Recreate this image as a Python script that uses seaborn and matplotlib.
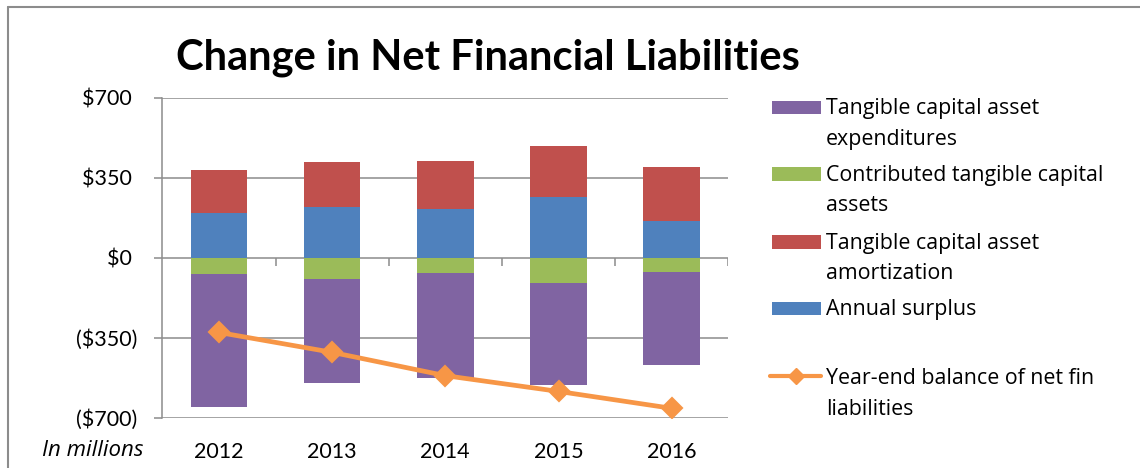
import numpy as np
import matplotlib
matplotlib.use("Agg")
import matplotlib.pyplot as plt
from matplotlib.patches import Rectangle
from matplotlib.lines import Line2D
import seaborn as sns

# ---- data (millions) ----
years = ["2012", "2013", "2014", "2015", "2016"]
surplus = [195, 222, 212, 267, 160]            # Annual surplus
amortization = [188, 197, 210, 222, 236]       # Tangible capital asset amortization
contributed = [-73, -95, -66, -112, -61]       # Contributed tangible capital assets
expenditures = [-580, -451, -459, -445, -407]  # Tangible capital asset expenditures
balance = [-327, -414, -516, -585, -659]       # Year-end balance of net fin liabilities
ytick_vals = [-700, -350, 0, 350, 700]
ytick_labels = ["($700)", "($350)", "$0 ", "$350 ", "$700 "]
legend_labels = [
    ["Tangible capital asset", "expenditures"],
    ["Contributed tangible capital", "assets"],
    ["Tangible capital asset", "amortization"],
    ["Annual surplus"],
    ["Year-end balance of net fin", "liabilities"],
]

C_PURPLE = "#8064A2"
C_GREEN = "#9BBB59"
C_RED = "#C0504D"
C_BLUE = "#4F81BD"
C_ORANGE = "#F79646"
C_GRID = "#8C8C8C"

sns.set_theme(style="white")
plt.rcParams["font.family"] = ["Lato", "DejaVu Sans"]
TEXT_FONT = ["Open Sans", "DejaVu Sans"]

W, H = 1140, 468
fig = plt.figure(figsize=(W / 100, H / 100), dpi=100)
ax = fig.add_axes([162.3 / W, 1 - 417.7 / H, (728.3 - 162.3) / W, (417.7 - 97.7) / H])

bar_kw = dict(width=0.5, saturation=1, errorbar=None, linewidth=0, ax=ax)
sns.barplot(x=years, y=surplus, color=C_BLUE, **bar_kw)
sns.barplot(x=years, y=amortization, bottom=surplus, color=C_RED, **bar_kw)
sns.barplot(x=years, y=contributed, color=C_GREEN, **bar_kw)
sns.barplot(x=years, y=expenditures, bottom=contributed, color=C_PURPLE, **bar_kw)
sns.pointplot(x=years, y=balance, color=C_ORANGE, markers="D", markersize=9.5,
              linewidth=3.4, errorbar=None, ax=ax)

ax.set_xlim(-0.5, 4.5)
ax.set_ylim(-700, 700)
ax.set_yticks(ytick_vals)
ax.set_yticklabels(ytick_labels, fontsize=15.5, color="black")
ax.set_axisbelow(True)
ax.yaxis.grid(True, color=C_GRID, linewidth=1.1)
ax.xaxis.grid(False)
for s in ["top", "right", "bottom"]:
    ax.spines[s].set_visible(False)
ax.spines["left"].set_color(C_GRID)
ax.spines["left"].set_linewidth(1.1)
ax.tick_params(axis="y", which="major", direction="out", length=5.8, width=1.1,
               color=C_GRID, pad=12.5, left=True)
ax.tick_params(axis="x", length=0, pad=17.5, labelsize=15.5, labelcolor="black")
ax.set_xlabel("")
ax.set_ylabel("")

# category tick marks hanging below the zero line
ax.vlines(np.arange(0.5, 5.0, 1.0), -35, 0, color=C_GRID, linewidth=1.1, zorder=1)

# title
fig.text(176 / W, 1 - 69.3 / H, "Change in Net Financial Liabilities",
         fontsize=30, fontweight="bold", ha="left", va="baseline", color="black")

# "In millions"
fig.text(144 / W, 1 - 456 / H, "In millions", fontsize=16, style="italic",
         family=TEXT_FONT, ha="right", va="baseline", color="black")

# chart border (cropped)
bx, by = 7.5 / W, 1 - 7 / H
fig.add_artist(Line2D([bx, bx], [-0.01, by], color=C_GRID, linewidth=1.5))
fig.add_artist(Line2D([bx, 1.01], [by, by], color=C_GRID, linewidth=1.5))

# manual legend
patch_colors = [C_PURPLE, C_GREEN, C_RED, C_BLUE]
baselines = [114.3, 180.7, 248.7, 315.3, 384.0]
for i, lab in enumerate(legend_labels):
    b = baselines[i]
    if i < 4:
        fig.add_artist(Rectangle((772 / W, 1 - b / H), (821 - 772) / W, 13.3 / H,
                                 facecolor=patch_colors[i], edgecolor="none",
                                 transform=fig.transFigure))
    else:
        fig.add_artist(Line2D([770 / W, 821 / W], [1 - (b - 8) / H] * 2,
                              color=C_ORANGE, linewidth=3.0))
        fig.add_artist(Line2D([795.7 / W], [1 - (b - 8) / H], color=C_ORANGE,
                              marker="D", markersize=8, linewidth=0))
    for j, line in enumerate(lab):
        fig.text(826 / W, 1 - (b + 30.7 * j) / H, line, fontsize=15.4,
                 family=TEXT_FONT, ha="left", va="baseline", color="black")

fig.savefig("out.png", dpi=100)
